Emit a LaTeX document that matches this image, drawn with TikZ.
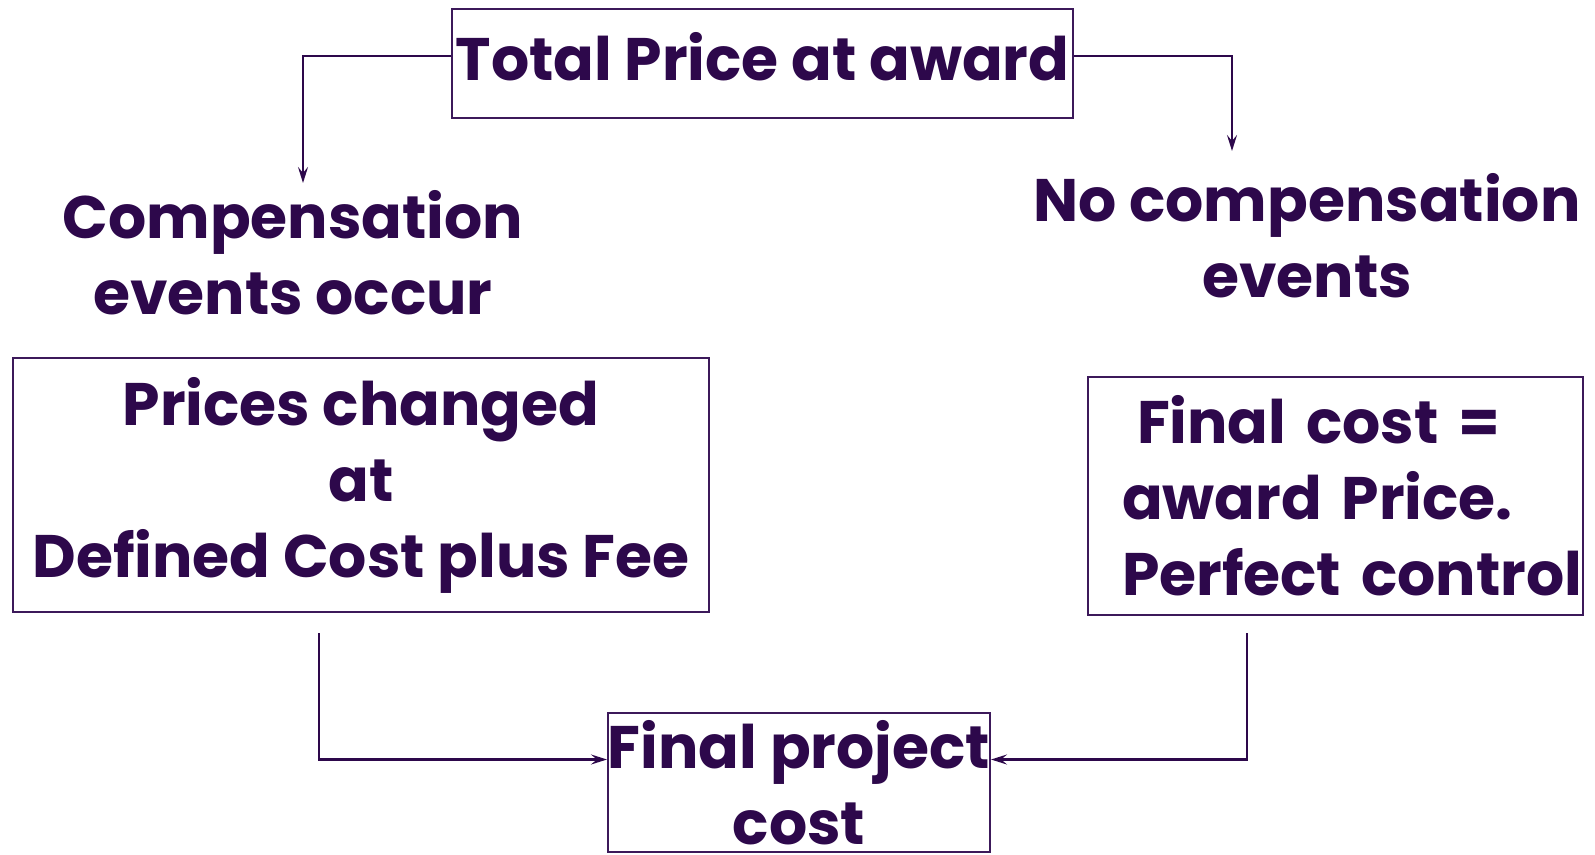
\documentclass[tikz,border=0pt]{standalone}
\usepackage{fontspec}
\newfontfamily\pf{Poppins}
\usetikzlibrary{arrows.meta}
\definecolor{ink}{RGB}{45,8,75}
\definecolor{boxline}{RGB}{60,25,90}
\tikzset{
  txt/.style={font=\pf\bfseries\fontsize{60}{76}\selectfont, text=ink, align=center, inner sep=0pt},
  framebox/.style={txt, draw=boxline, line width=2pt},
  arr/.style={draw=ink, line width=2.2pt, -{Stealth[length=16pt,width=10pt,inset=6pt]}},
}
\begin{document}
\begin{tikzpicture}[x=1pt,y=-1pt]
\useasboundingbox[fill=white] (0,0) rectangle (1595,854);
\node[framebox, minimum width=621pt, minimum height=109pt, text height=70pt, text depth=37pt] (top) at (762.5,63.5) {Total Price at award};
\node[txt] (comp) at (293,253) {Compensation\\events occur};
\node[txt] (nocomp) at (1307,236) {No compensation\\events};
\node[framebox, minimum width=696pt, minimum height=254pt] (lb) at (361,485) {Prices changed\\at\\Defined Cost plus Fee};
\node[framebox, minimum width=495pt, minimum height=238pt, text width=427pt, inner xsep=34pt, align=left] (rb) at (1335.5,496) {\mbox{\hspace*{15pt}Final cost =}\\\mbox{award Price.}\\\mbox{Perfect control}};
\node[framebox, minimum width=382pt, minimum height=139pt] (fin) at (799,782.5) {Final project\\cost};
\coordinate (ltip) at (303,183);
\coordinate (rtip) at (1232,151);
\coordinate (lstart) at (319,633);
\coordinate (rstart) at (1247,633);
\draw[arr] ([yshift=7.5pt]top.west) -| (ltip);
\draw[arr] ([yshift=7.5pt]top.east) -| (rtip);
\draw[arr] (lstart) |- ([yshift=23pt]fin.west);
\draw[arr] (rstart) |- ([yshift=23pt]fin.east);
\end{tikzpicture}
\end{document}
